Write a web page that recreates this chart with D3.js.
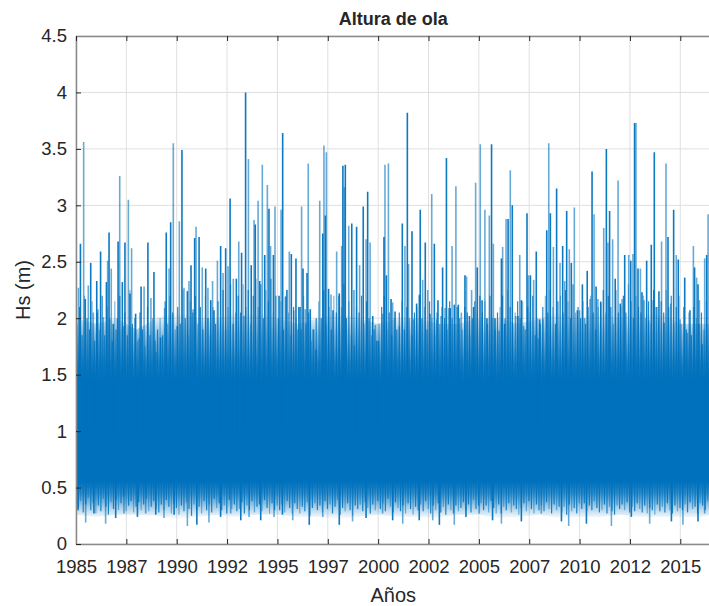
<!DOCTYPE html>
<html>
<head>
<meta charset="utf-8">
<script src="https://cdn.jsdelivr.net/npm/d3@7"></script>
<style>
  body { margin: 0; background: #fff; }
  text { font-family: "Liberation Sans", Arial, sans-serif; fill: #262626; }
</style>
</head>
<body>
<svg id="chart" width="709" height="606"></svg>
<script>
/* Altura de ola (Hs) 1985-2016, drawn as an envelope of the dense record
   plus the individual storm peaks and calm dips. */

// outer limits of the dense part of the record, one value per year
const years = [1985, 1986, 1987, 1988, 1989, 1990, 1991, 1992, 1993, 1994, 1995,
  1996, 1997, 1998, 1999, 2000, 2001, 2002, 2003, 2004, 2005, 2006, 2007, 2008,
  2009, 2010, 2011, 2012, 2013, 2014, 2015, 2016, 2016.5];
const envelopeTop = [2.0, 1.95, 2.0, 1.9, 2.0, 2.05, 2.0, 2.0, 2.05, 2.05, 2.0,
  1.95, 2.0, 2.05, 2.0, 1.95, 2.0, 2.0, 1.95, 1.95, 2.0, 2.0, 1.95, 2.0,
  2.05, 2.0, 2.05, 2.0, 2.05, 2.05, 1.95, 1.95, 1.95];
const envelopeBottom = [0.26, 0.24, 0.26, 0.26, 0.25, 0.22, 0.24, 0.26, 0.24, 0.26, 0.26,
  0.24, 0.24, 0.22, 0.24, 0.26, 0.24, 0.24, 0.23, 0.26, 0.26, 0.23, 0.24, 0.26,
  0.23, 0.24, 0.24, 0.26, 0.24, 0.24, 0.24, 0.24, 0.26];

// storm peaks [year, Hs]
const spikes = [
  [1985.12, 2.27], [1985.22, 2.66], [1985.38, 3.56], [1985.46, 2.17], [1985.61, 2.29],
  [1985.73, 2.49], [1985.86, 2.05], [1986.03, 2.33], [1986.09, 2.08], [1986.22, 2.59],
  [1986.36, 2.01], [1986.51, 2.32], [1986.57, 2.51], [1986.64, 2.76], [1986.75, 2.44],
  [1986.85, 1.95], [1986.99, 1.90], [1987.09, 2.68], [1987.17, 3.26], [1987.30, 2.32],
  [1987.37, 1.93], [1987.43, 2.67], [1987.60, 3.05], [1987.68, 2.22], [1987.76, 2.62],
  [1987.96, 2.04], [1988.13, 1.82], [1988.23, 2.28], [1988.38, 2.28], [1988.57, 2.67],
  [1988.72, 2.18], [1988.87, 2.41], [1988.97, 1.70], [1989.20, 1.83], [1989.40, 2.09],
  [1989.48, 2.76], [1989.62, 2.44], [1989.70, 2.85], [1989.83, 3.55], [1990.03, 1.93],
  [1990.13, 2.86], [1990.26, 3.49], [1990.36, 2.27], [1990.53, 2.24], [1990.61, 2.33],
  [1990.71, 2.47], [1990.81, 2.08], [1990.89, 2.71], [1990.96, 2.81], [1991.11, 2.72],
  [1991.27, 2.45], [1991.44, 2.44], [1991.55, 2.27], [1991.69, 2.16], [1991.78, 2.33],
  [1991.85, 2.07], [1992.02, 2.51], [1992.18, 2.64], [1992.30, 2.40], [1992.43, 2.62],
  [1992.55, 2.46], [1992.65, 3.06], [1992.81, 2.35], [1992.96, 2.35], [1993.08, 2.68],
  [1993.22, 2.58], [1993.34, 2.02], [1993.42, 4.00], [1993.56, 3.41], [1993.70, 2.47],
  [1993.84, 2.87], [1993.90, 2.83], [1994.04, 3.04], [1994.12, 2.33], [1994.25, 3.36],
  [1994.37, 2.56], [1994.50, 3.18], [1994.58, 2.97], [1994.66, 2.64], [1994.80, 2.56],
  [1994.88, 2.99], [1995.08, 2.20], [1995.18, 2.96], [1995.26, 3.64], [1995.39, 2.19],
  [1995.47, 2.25], [1995.59, 2.59], [1995.69, 2.57], [1995.81, 2.07], [1995.92, 2.53],
  [1996.02, 1.90], [1996.12, 2.10], [1996.20, 2.99], [1996.27, 2.44], [1996.38, 2.08],
  [1996.47, 2.40], [1996.53, 3.37], [1996.63, 2.08], [1996.77, 1.90], [1996.91, 1.72],
  [1997.10, 3.04], [1997.25, 2.75], [1997.31, 3.53], [1997.38, 2.91], [1997.43, 3.47],
  [1997.54, 2.26], [1997.66, 2.21], [1997.76, 2.07], [1997.94, 2.59], [1998.07, 2.22],
  [1998.19, 2.64], [1998.25, 3.35], [1998.32, 3.16], [1998.37, 3.36], [1998.54, 2.82],
  [1998.69, 2.84], [1998.82, 1.76], [1998.93, 2.81], [1999.08, 2.47], [1999.26, 2.99],
  [1999.40, 2.70], [1999.48, 3.12], [1999.60, 2.67], [1999.73, 2.02], [1999.86, 1.94],
  [2000.01, 1.80], [2000.22, 2.04], [2000.29, 2.72], [2000.34, 3.36], [2000.41, 2.38],
  [2000.51, 3.37], [2000.64, 2.17], [2000.72, 2.14], [2000.84, 2.06], [2001.05, 1.93],
  [2001.20, 2.84], [2001.33, 2.64], [2001.45, 3.82], [2001.51, 2.48], [2001.68, 2.77],
  [2001.76, 1.99], [2001.91, 2.13], [2002.04, 2.21], [2002.09, 2.96], [2002.21, 2.34],
  [2002.34, 2.67], [2002.46, 2.25], [2002.57, 2.04], [2002.66, 3.10], [2002.79, 2.66],
  [2002.90, 1.99], [2002.97, 2.16], [2003.12, 2.02], [2003.20, 2.45], [2003.32, 2.09],
  [2003.39, 3.42], [2003.50, 2.09], [2003.58, 2.09], [2003.67, 2.64], [2003.78, 2.12],
  [2003.86, 3.17], [2003.98, 2.12], [2004.13, 2.05], [2004.31, 2.38], [2004.39, 2.37],
  [2004.53, 2.02], [2004.64, 2.25], [2004.74, 2.10], [2004.84, 3.20], [2004.92, 2.45],
  [2005.07, 3.54], [2005.16, 2.16], [2005.30, 2.96], [2005.40, 2.00], [2005.52, 2.91],
  [2005.63, 3.54], [2005.72, 2.66], [2005.80, 2.00], [2006.00, 1.89], [2006.12, 2.53],
  [2006.18, 2.63], [2006.28, 1.95], [2006.35, 2.88], [2006.45, 2.88], [2006.56, 3.31],
  [2006.66, 3.00], [2006.83, 2.02], [2006.94, 2.02], [2007.03, 2.56], [2007.11, 2.16],
  [2007.22, 1.93], [2007.39, 2.93], [2007.46, 2.38], [2007.56, 2.38], [2007.72, 2.34],
  [2007.85, 2.59], [2007.94, 1.82], [2008.02, 1.99], [2008.18, 1.99], [2008.37, 2.78],
  [2008.47, 3.55], [2008.55, 2.93], [2008.70, 2.63], [2008.86, 3.15], [2009.03, 2.49],
  [2009.16, 2.64], [2009.26, 2.33], [2009.36, 2.95], [2009.49, 2.61], [2009.59, 2.49],
  [2009.74, 2.98], [2009.89, 2.07], [2010.00, 2.07], [2010.14, 2.30], [2010.25, 2.00],
  [2010.38, 2.42], [2010.52, 2.17], [2010.62, 3.30], [2010.72, 2.92], [2010.82, 2.28],
  [2010.91, 2.17], [2011.05, 2.14], [2011.20, 2.80], [2011.33, 3.50], [2011.41, 2.67],
  [2011.49, 2.95], [2011.64, 2.70], [2011.77, 2.35], [2011.91, 3.22], [2012.02, 2.13],
  [2012.11, 2.17], [2012.24, 2.56], [2012.44, 2.56], [2012.54, 2.51], [2012.65, 2.57],
  [2012.73, 3.73], [2012.80, 3.73], [2012.90, 2.44], [2013.02, 2.44], [2013.10, 2.23],
  [2013.20, 2.16], [2013.33, 2.51], [2013.43, 1.98], [2013.56, 2.65], [2013.65, 2.16],
  [2013.71, 3.47], [2013.84, 2.10], [2013.94, 2.24], [2014.07, 2.68], [2014.19, 1.96],
  [2014.29, 3.37], [2014.39, 2.72], [2014.52, 2.13], [2014.67, 2.96], [2014.80, 2.56],
  [2014.90, 2.52], [2014.99, 1.99], [2015.22, 2.36], [2015.35, 1.87], [2015.48, 2.07],
  [2015.65, 2.64], [2015.71, 2.45], [2015.81, 2.36], [2015.88, 2.30], [2015.95, 2.16],
  [2016.08, 1.77], [2016.21, 2.53], [2016.31, 2.56], [2016.38, 2.92]
];

// calm dips [year, Hs]
const dips = [
  [1985.10, 0.30], [1985.48, 0.19], [1985.89, 0.27], [1986.47, 0.18], [1986.97, 0.23],
  [1987.38, 0.27], [1988.05, 0.24], [1988.46, 0.27], [1988.96, 0.26], [1989.37, 0.23],
  [1989.87, 0.26], [1990.53, 0.16], [1991.00, 0.17], [1991.60, 0.19], [1992.18, 0.24],
  [1992.68, 0.27], [1993.18, 0.21], [1993.59, 0.24], [1994.17, 0.21], [1994.83, 0.24],
  [1995.25, 0.26], [1995.76, 0.21], [1996.58, 0.17], [1997.25, 0.24], [1998.07, 0.17],
  [1998.73, 0.20], [1999.40, 0.23], [2000.22, 0.27], [2000.72, 0.21], [2001.22, 0.18],
  [2002.04, 0.21], [2002.71, 0.21], [2003.04, 0.17], [2003.78, 0.17], [2004.36, 0.24],
  [2005.02, 0.27], [2005.68, 0.21], [2006.12, 0.18], [2007.11, 0.20], [2008.10, 0.27],
  [2009.10, 0.20], [2009.46, 0.16], [2010.34, 0.18], [2011.58, 0.16], [2012.57, 0.24],
  [2013.48, 0.18], [2014.56, 0.20], [2015.13, 0.17], [2015.88, 0.20], [2016.21, 0.27]
];

// smaller peaks and dips at the ragged edges of the dense band,
// one every 1/8 year starting at fringeStart
const fringeStart = 1985.05, fringeStep = 0.125;
const fringeHigh = [
  1.95, 2.1, 1.85, 2.2, 2.0, 1.9, 2.15, 1.8,   2.05, 1.9, 2.2, 1.85, 2.1, 2.0, 1.8, 2.15,
  2.0, 2.2, 1.9, 2.05, 1.85, 2.25, 1.95, 2.0,  1.8, 2.05, 1.9, 1.75, 2.1, 1.85, 2.0, 1.8,
  1.9, 2.0, 1.85, 2.15, 1.95, 2.2, 2.05, 1.9,  2.1, 1.95, 2.25, 2.0, 1.85, 2.15, 2.05, 2.2,
  1.95, 2.1, 1.9, 2.2, 2.0, 1.85, 2.1, 1.95,   2.15, 2.0, 2.25, 1.9, 2.1, 2.3, 1.95, 2.05,
  2.2, 2.05, 2.3, 2.1, 2.25, 1.95, 2.2, 2.35,  2.1, 2.3, 2.0, 2.25, 2.15, 2.35, 2.05, 2.2,
  2.0, 2.15, 1.9, 2.2, 2.05, 1.85, 2.1, 2.0,   2.1, 1.9, 2.2, 1.95, 2.05, 1.8, 1.9, 2.0,
  2.15, 2.0, 2.25, 1.95, 2.1, 1.9, 2.2, 2.05,  2.2, 2.1, 2.3, 2.0, 2.15, 1.85, 2.25, 2.1,
  2.05, 2.2, 1.95, 2.15, 2.0, 1.85, 1.9, 1.8,  1.95, 2.1, 2.2, 1.9, 2.05, 1.85, 2.0, 1.9,
  2.05, 2.15, 1.9, 2.1, 2.0, 1.85, 2.05, 2.1,  2.2, 2.0, 2.1, 1.9, 2.15, 2.0, 1.85, 2.05,
  1.95, 2.1, 2.0, 1.9, 2.15, 2.0, 1.95, 2.1,   2.0, 1.9, 2.1, 2.05, 1.85, 2.0, 2.15, 2.05,
  2.2, 2.05, 2.15, 1.95, 2.2, 2.0, 1.9, 2.05,  2.1, 2.2, 2.0, 2.25, 2.1, 1.95, 2.05, 2.15,
  2.0, 2.15, 1.9, 2.1, 2.05, 2.2, 1.85, 2.0,   1.95, 2.1, 2.2, 2.05, 2.25, 2.1, 1.95, 2.15,
  2.2, 2.05, 2.25, 2.15, 2.0, 2.3, 2.05, 2.1,  2.0, 2.15, 1.95, 2.1, 2.2, 2.05, 1.9, 2.1,
  2.15, 2.25, 2.05, 2.2, 2.1, 1.95, 2.25, 2.05, 2.1, 2.2, 2.05, 2.3, 2.15, 2.0, 2.2, 2.1,
  2.05, 2.2, 2.0, 2.15, 1.95, 2.25, 2.1, 2.0,  2.15, 2.05, 2.25, 2.1, 2.2, 1.95, 2.1, 2.2,
  1.95, 2.1, 1.9, 2.05, 1.85, 2.1, 2.0, 1.95,  2.05, 1.9, 2.15
];
const fringeLow = [
  0.32, 0.38, 0.28, 0.35, 0.41, 0.3, 0.36, 0.27,  0.34, 0.29, 0.4, 0.33, 0.26, 0.37, 0.31, 0.39,
  0.3, 0.36, 0.42, 0.29, 0.34, 0.38, 0.28, 0.33,  0.37, 0.3, 0.35, 0.4, 0.29, 0.33, 0.38, 0.31,
  0.28, 0.35, 0.3, 0.39, 0.33, 0.27, 0.36, 0.32,  0.26, 0.34, 0.29, 0.37, 0.31, 0.25, 0.35, 0.3,
  0.33, 0.27, 0.38, 0.3, 0.35, 0.28, 0.4, 0.32,   0.36, 0.3, 0.34, 0.27, 0.39, 0.31, 0.35, 0.29,
  0.31, 0.37, 0.27, 0.34, 0.3, 0.38, 0.28, 0.33,  0.35, 0.29, 0.39, 0.32, 0.27, 0.36, 0.3, 0.34,
  0.3, 0.35, 0.28, 0.38, 0.32, 0.27, 0.36, 0.31,  0.27, 0.33, 0.29, 0.37, 0.25, 0.32, 0.36, 0.3,
  0.34, 0.28, 0.38, 0.31, 0.35, 0.27, 0.33, 0.39,  0.26, 0.32, 0.29, 0.36, 0.3, 0.25, 0.34, 0.31,
  0.35, 0.29, 0.37, 0.32, 0.27, 0.35, 0.3, 0.38,  0.31, 0.36, 0.29, 0.4, 0.33, 0.28, 0.37, 0.32,
  0.29, 0.34, 0.27, 0.36, 0.31, 0.26, 0.33, 0.3,  0.35, 0.29, 0.38, 0.31, 0.27, 0.34, 0.3, 0.36,
  0.28, 0.33, 0.26, 0.35, 0.3, 0.27, 0.34, 0.29,  0.32, 0.37, 0.3, 0.35, 0.28, 0.39, 0.31, 0.34,
  0.36, 0.3, 0.34, 0.28, 0.38, 0.32, 0.27, 0.35,  0.27, 0.33, 0.3, 0.36, 0.28, 0.34, 0.31, 0.26,
  0.32, 0.36, 0.29, 0.38, 0.31, 0.27, 0.35, 0.3,  0.34, 0.29, 0.37, 0.31, 0.27, 0.35, 0.3, 0.33,
  0.28, 0.33, 0.26, 0.35, 0.29, 0.32, 0.27, 0.36,  0.31, 0.36, 0.29, 0.34, 0.3, 0.38, 0.32, 0.28,
  0.3, 0.35, 0.27, 0.33, 0.29, 0.26, 0.34, 0.31,  0.35, 0.3, 0.37, 0.28, 0.33, 0.29, 0.36, 0.31,
  0.28, 0.34, 0.27, 0.32, 0.3, 0.26, 0.35, 0.29,  0.33, 0.28, 0.36, 0.3, 0.27, 0.34, 0.29, 0.32,
  0.3, 0.35, 0.28, 0.37, 0.31, 0.33, 0.27, 0.36,  0.34, 0.3, 0.38
];

const xTicks = [1985, 1987.5, 1990, 1992.5, 1995, 1997.5, 2000, 2002.5, 2005,
  2007.5, 2010, 2012.5, 2015];
const xTickLabels = ["1985", "1987", "1990", "1992", "1995", "1997", "2000",
  "2002", "2005", "2007", "2010", "2012", "2015"];
const yTicks = [0, 0.5, 1, 1.5, 2, 2.5, 3, 3.5, 4, 4.5];
const yTickLabels = ["0", "0.5", "1", "1.5", "2", "2.5", "3", "3.5", "4", "4.5"];

const lineColor = "#0072BD";
const plotLeft = 76, plotTop = 36, plotBottom = 544;
const pxPerYear = 20.143;
const plotRight = plotLeft + 31.5 * pxPerYear;

const svg = d3.select("#chart");

const x = d3.scaleLinear().domain([1985, 2016.5]).range([plotLeft, plotRight]);
const y = d3.scaleLinear().domain([0, 4.5]).range([plotBottom, plotTop]);

const defs = svg.append("defs");
defs.append("clipPath").attr("id", "plotclip")
  .append("rect").attr("x", plotLeft).attr("y", plotTop)
  .attr("width", plotRight - plotLeft).attr("height", plotBottom - plotTop);

// density of the record: opaque in the core, fading out at the ragged edges
const fadeStops = [[2.05, 0], [1.85, 0.45], [1.6, 0.88], [1.45, 1], [0.55, 1],
  [0.45, 0.8], [0.33, 0.35], [0.22, 0]];
const fade = defs.append("linearGradient").attr("id", "bandfade")
  .attr("gradientUnits", "userSpaceOnUse")
  .attr("x1", 0).attr("x2", 0).attr("y1", y(2.05)).attr("y2", y(0.22));
fade.selectAll("stop").data(fadeStops).join("stop")
  .attr("offset", d => (2.05 - d[0]) / (2.05 - 0.22))
  .attr("stop-color", lineColor).attr("stop-opacity", d => d[1]);

// grid
const grid = svg.append("g").attr("stroke", "#dfdfdf").attr("stroke-width", 1);
grid.selectAll(".gx").data(xTicks).join("line")
  .attr("x1", d => x(d)).attr("x2", d => x(d))
  .attr("y1", plotTop).attr("y2", plotBottom);
grid.selectAll(".gy").data(yTicks).join("line")
  .attr("x1", plotLeft).attr("x2", plotRight)
  .attr("y1", d => y(d)).attr("y2", d => y(d));

// data
const plot = svg.append("g").attr("clip-path", "url(#plotclip)");
const idx = d3.range(years.length);

plot.append("path").datum(idx)
  .attr("d", d3.area().x(i => x(years[i]))
    .y0(i => y(envelopeBottom[i])).y1(i => y(envelopeTop[i])))
  .attr("fill", "url(#bandfade)");

const fringe = fringeHigh.map((v, i) => [fringeStart + i * fringeStep, v])
  .concat(fringeLow.map((v, i) => [fringeStart + 0.06 + i * fringeStep, v]));

plot.append("g").selectAll("line").data(fringe).join("line")
  .attr("x1", d => x(d[0])).attr("x2", d => x(d[0]))
  .attr("y1", y(1)).attr("y2", d => y(d[1]))
  .attr("stroke", lineColor).attr("stroke-width", 1.2)
  .attr("stroke-opacity", (d, i) => (i % 3 ? 0.85 : 0.5));

plot.append("g").selectAll("line").data(spikes.concat(dips)).join("line")
  .attr("x1", d => x(d[0])).attr("x2", d => x(d[0]))
  .attr("y1", y(1)).attr("y2", d => y(d[1]))
  .attr("stroke", lineColor).attr("stroke-width", 1.6)
  .attr("stroke-opacity", (d, i) => (i % 2 ? 0.95 : 0.6));

// axes (MATLAB style: box, ticks pointing in)
const xAxis = d3.axisBottom(x).tickValues(xTicks)
  .tickFormat((d, i) => xTickLabels[i]).tickSizeInner(-5).tickSizeOuter(0).tickPadding(16);
const yAxis = d3.axisLeft(y).tickValues(yTicks)
  .tickFormat((d, i) => yTickLabels[i]).tickSizeInner(-5).tickSizeOuter(0).tickPadding(9);
const xTop = d3.axisTop(x).tickValues(xTicks).tickFormat("")
  .tickSizeInner(-5).tickSizeOuter(0);

function styleAxis(g) {
  g.select(".domain").attr("stroke", "#8a8a8a").attr("stroke-width", 1.5);
  g.selectAll(".tick line").attr("stroke", "#262626");
  g.selectAll(".tick text").attr("fill", "#262626")
    .style("font-family", '"Liberation Sans", Arial, sans-serif').style("font-size", "18.5px");
}

svg.append("g").attr("transform", `translate(0,${plotBottom})`).call(xAxis).call(styleAxis);
svg.append("g").attr("transform", `translate(${plotLeft},0)`).call(yAxis).call(styleAxis);
svg.append("g").attr("transform", `translate(0,${plotTop})`).call(xTop).call(styleAxis);

// titles
svg.append("text").attr("x", (plotLeft + plotRight) / 2).attr("y", 25)
  .attr("text-anchor", "middle").style("font-size", "18px").style("font-weight", "bold")
  .text("Altura de ola");

svg.append("text").attr("x", (plotLeft + plotRight) / 2).attr("y", 602)
  .attr("text-anchor", "middle").style("font-size", "20px")
  .text("Años");

svg.append("text").attr("transform", `translate(30,${(plotTop + plotBottom) / 2}) rotate(-90)`)
  .attr("text-anchor", "middle").style("font-size", "20px")
  .text("Hs (m)");
</script>
</body>
</html>
